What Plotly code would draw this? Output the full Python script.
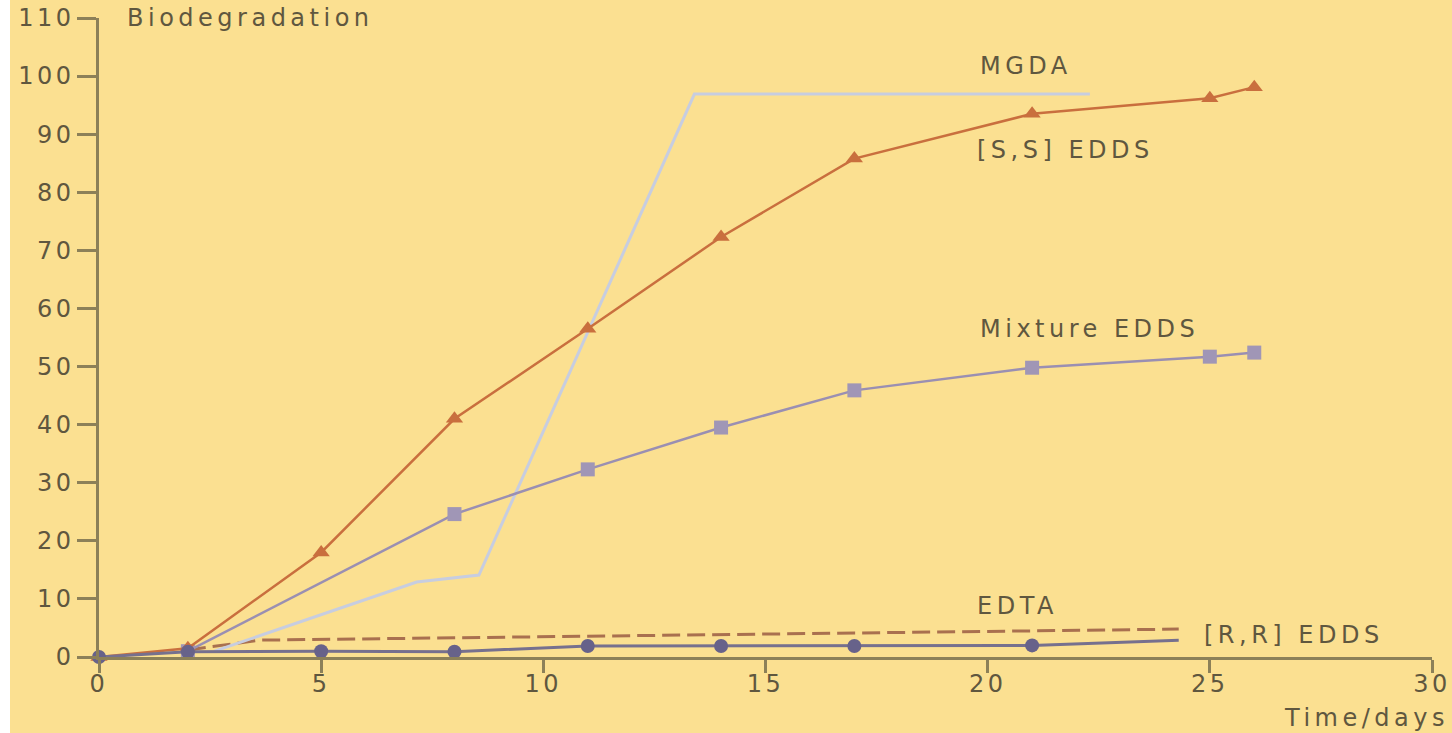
import plotly.graph_objects as go

# ---- data ----
ss_days = [0, 2, 5, 8, 11, 14, 17, 21, 25, 26]
ss_vals = [0, 1.5, 18, 41, 56.5, 72.3, 85.8, 93.5, 96.2, 98.1]

mix_days = [2, 8, 11, 14, 17, 21, 25, 26]
mix_vals = [1, 24.6, 32.3, 39.5, 45.9, 49.8, 51.7, 52.4]

mgda_days = [2.6, 7.15, 8.55, 13.4, 22.3]
mgda_vals = [1, 12.9, 14.1, 96.9, 96.9]

edta_days = [2, 3.6, 24.3]
edta_vals = [1.2, 2.9, 4.8]

rr_days = [0, 2, 5, 8, 11, 14, 17, 21, 24.3]
rr_vals = [0, 0.9, 1.0, 0.9, 1.9, 1.9, 1.9, 2.0, 2.9]
rr_marker_days = [0, 2, 5, 8, 11, 14, 17, 21]

x_ticks = [0, 5, 10, 15, 20, 25, 30]
y_ticks = [0, 10, 20, 30, 40, 50, 60, 70, 80, 90, 100, 110]

# ---- styling ----
BG = "#fbe091"
AXIS = "#8c8058"
TXT = "#5f573f"
FONT = "DejaVu Sans"
FS = 24

fig = go.Figure()

fig.add_trace(go.Scatter(
    x=edta_days, y=edta_vals, mode="lines",
    line=dict(color="#a9704f", width=3, dash="18px,7px"),
    name="EDTA", cliponaxis=False))

fig.add_trace(go.Scatter(
    x=mgda_days, y=mgda_vals, mode="lines",
    line=dict(color="#c7cde0", width=3),
    name="MGDA", cliponaxis=False))

fig.add_trace(go.Scatter(
    x=mix_days, y=mix_vals, mode="lines+markers",
    line=dict(color="#9a8fb2", width=2.5),
    marker=dict(symbol="square", size=14, color="#a096b6"),
    name="Mixture EDDS", cliponaxis=False))

fig.add_trace(go.Scatter(
    x=ss_days, y=ss_vals, mode="lines+markers",
    line=dict(color="#c96f3e", width=2.5),
    marker=dict(symbol="triangle-up", size=15, color="#c96f3e"),
    name="[S,S] EDDS", cliponaxis=False))

fig.add_trace(go.Scatter(
    x=rr_days, y=rr_vals, mode="lines",
    line=dict(color="#76708e", width=3),
    name="[R,R] EDDS", cliponaxis=False, showlegend=False))

fig.add_trace(go.Scatter(
    x=rr_marker_days, y=rr_vals[:len(rr_marker_days)], mode="markers",
    marker=dict(symbol="circle", size=14, color="#67628a"),
    name="[R,R] EDDS markers", cliponaxis=False, showlegend=False))

# series labels (data coordinates, left-anchored)
labels = [
    ("MGDA", 19.78, 101.7),
    ("[S,S] EDDS", 19.72, 87.3),
    ("Mixture EDDS", 19.78, 56.5),
    ("EDTA", 19.72, 8.8),
    ("[R,R] EDDS", 24.83, 3.8),
]
for text, ax_, ay_ in labels:
    fig.add_annotation(x=ax_, y=ay_, text=text, showarrow=False,
                       xanchor="left", yanchor="middle",
                       font=dict(family=FONT, size=FS, color=TXT))

# axis titles (paper coordinates)
fig.add_annotation(x=0.0195, y=1.0, xref="paper", yref="paper", text="Biodegradation",
                   showarrow=False, xanchor="left", yanchor="middle",
                   font=dict(family=FONT, size=FS, color=TXT))
fig.add_annotation(x=0.888, y=-0.0955, xref="paper", yref="paper", text="Time/days",
                   showarrow=False, xanchor="left", yanchor="middle",
                   font=dict(family=FONT, size=FS, color=TXT))

fig.update_layout(
    width=1442, height=733, autosize=False,
    paper_bgcolor=BG, plot_bgcolor=BG,
    margin=dict(l=89, r=20, t=18, b=76),
    showlegend=False,
    font=dict(family=FONT, size=FS, color=TXT),
)

fig.update_xaxes(
    range=[0, 30], tickvals=x_ticks, ticktext=[str(v) for v in x_ticks],
    showgrid=False, zeroline=False, showline=True, linecolor=AXIS, linewidth=2.5,
    ticks="outside", ticklen=13, tickwidth=2.5, tickcolor=AXIS,
    tickfont=dict(family=FONT, size=FS, color=TXT), ticklabelstandoff=-10,
    ticklabeloverflow="allow", automargin=False,
)
fig.update_yaxes(
    range=[0, 110], tickvals=y_ticks, ticktext=[str(v) for v in y_ticks],
    showgrid=False, zeroline=False, showline=True, linecolor=AXIS, linewidth=2.5,
    ticks="outside", ticklen=19, tickwidth=2.5, tickcolor=AXIS,
    tickfont=dict(family=FONT, size=FS, color=TXT), ticklabelstandoff=-2,
    ticklabeloverflow="allow", automargin=False,
)

# page placement like the original (thin white strip at left) and
# wider lettering to match the stretched type of the original
post_js = """
document.documentElement.style.overflow = 'hidden';
document.body.style.overflow = 'hidden';
document.body.style.margin = '0 0 0 10px';
var gd = document.getElementById('{plot_id}');
function widen() {
  gd.querySelectorAll('.annotation-text').forEach(function (t) {
    if (!t.getAttribute('data-fixed')) {
      var bb = t.getBBox();
      t.setAttribute('text-anchor', 'start');
      t.setAttribute('x', bb.x);
      t.setAttribute('data-fixed', '1');
    }
    t.style.letterSpacing = '4.5px';
  });
  gd.querySelectorAll('.xtick text, .ytick text').forEach(function (t) { t.style.letterSpacing = '3.5px'; });
}
widen();
gd.on('plotly_afterplot', widen);
"""

fig.write_html("out.html", post_script=post_js,
               config={"responsive": False, "displayModeBar": False})
